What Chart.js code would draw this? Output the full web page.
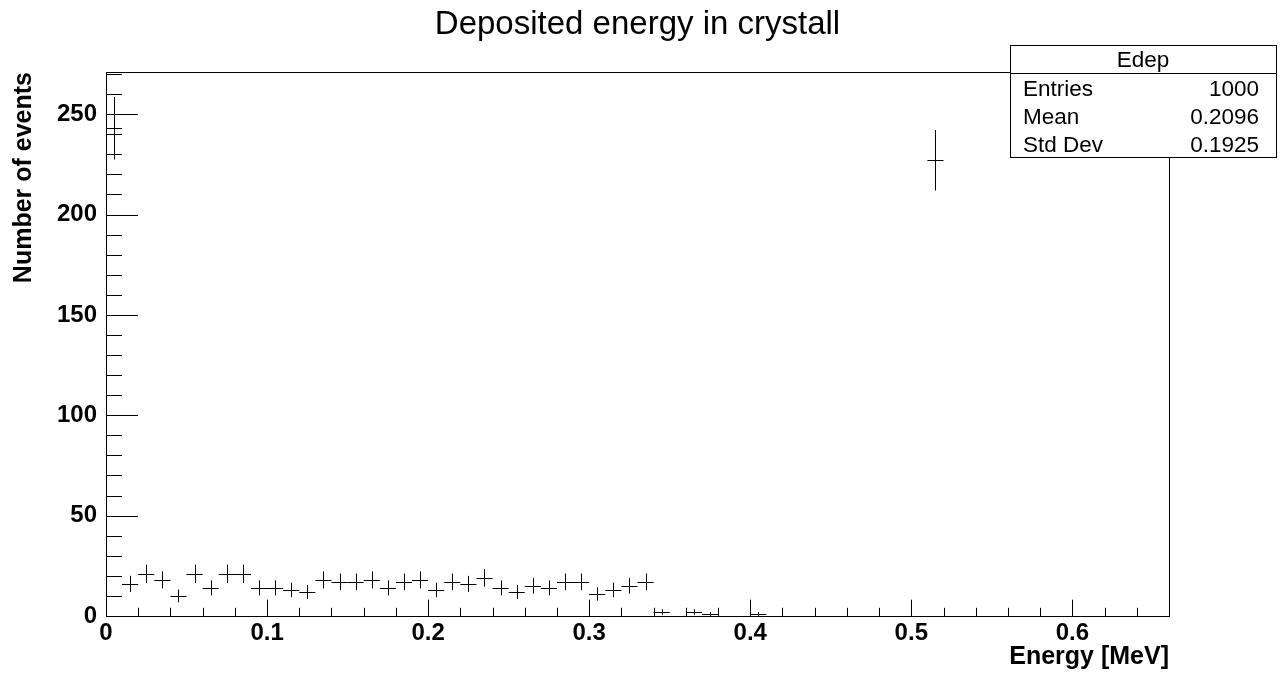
<!DOCTYPE html>
<html>
<head>
<meta charset="utf-8">
<title>Deposited energy in crystall</title>
<script src="https://cdn.jsdelivr.net/npm/chart.js@4/dist/chart.umd.min.js"></script>
<style>
  html, body { margin: 0; padding: 0; background: #fff; }
  #wrap { width: 1286px; height: 675px; position: relative; }
</style>
</head>
<body>
<div id="wrap"><canvas id="edep-chart"></canvas></div>
<script>
  // Histogram "Edep": filled bins only (bin width 0.01 MeV, range 0 - 0.66 MeV)
  var binWidth = 0.01;
  var binCenters = [
    0.005, 0.015, 0.025, 0.035, 0.045, 0.055, 0.065, 0.075, 0.085, 0.095,
    0.105, 0.115, 0.125, 0.135, 0.145, 0.155, 0.165, 0.175, 0.185, 0.195,
    0.205, 0.215, 0.225, 0.235, 0.245, 0.255, 0.265, 0.275, 0.285, 0.295,
    0.305, 0.315, 0.325, 0.335, 0.345, 0.365, 0.375, 0.405, 0.515
  ];
  var counts = [
    243, 16, 21, 18, 10, 21, 14, 21, 21, 14,
    14, 13, 12, 18, 17, 17, 18, 14, 17, 18,
    13, 17, 16, 19, 14, 12, 15, 14, 17, 17,
    11, 13, 15, 17, 2, 2, 1, 1, 227
  ];

  var xRange = [0, 0.66];
  var yRange = [0, 271];
  var xMajor = 0.1, xMinor = 0.02;
  var yMajor = 50, yMinor = 10;

  var statTitle = 'Edep';
  var statLabels = ['Entries', 'Mean', 'Std Dev'];
  var statValues = ['1000', '0.2096', '0.1925'];

  var FONT = '"Liberation Sans", Arial, Helvetica, sans-serif';

  function isMultiple(v, step) {
    var r = v / step;
    return Math.abs(r - Math.round(r)) < 1e-6;
  }

  // frame + inward ROOT style ticks
  var framePlugin = {
    id: 'rootFrame',
    beforeDatasetsDraw: function (chart) {
      var ctx = chart.ctx, a = chart.chartArea;
      var xs = chart.scales.x, ys = chart.scales.y;
      ctx.save();
      ctx.strokeStyle = '#000';
      ctx.lineWidth = 1;
      ctx.strokeRect(Math.round(a.left) + 0.5, Math.round(a.top) + 0.5,
        Math.round(a.right - a.left), Math.round(a.bottom - a.top));

      var xLen = 0.03 * (a.bottom - a.top);
      var yLen = 0.03 * (a.right - a.left);
      ctx.beginPath();
      xs.ticks.forEach(function (t) {
        var px = Math.round(xs.getPixelForValue(t.value)) + 0.5;
        var len = isMultiple(t.value, xMajor) ? xLen : xLen / 2;
        ctx.moveTo(px, a.bottom);
        ctx.lineTo(px, a.bottom - len);
      });
      ys.ticks.forEach(function (t) {
        var py = Math.round(ys.getPixelForValue(t.value)) + 0.5;
        var len = isMultiple(t.value, yMajor) ? yLen : yLen / 2;
        ctx.moveTo(a.left, py);
        ctx.lineTo(a.left + len, py);
      });
      ctx.stroke();
      ctx.restore();
    }
  };

  // histogram drawn as error crosses: bin width horizontally, sqrt(N) vertically
  var errorPlugin = {
    id: 'rootErrors',
    afterDatasetsDraw: function (chart) {
      var ctx = chart.ctx;
      var xs = chart.scales.x, ys = chart.scales.y;
      ctx.save();
      ctx.strokeStyle = '#000';
      ctx.lineWidth = 1;
      ctx.beginPath();
      chart.data.datasets[0].data.forEach(function (p) {
        var err = Math.sqrt(p.y);
        var x0 = xs.getPixelForValue(p.x - binWidth / 2);
        var x1 = xs.getPixelForValue(p.x + binWidth / 2);
        var xc = Math.round(xs.getPixelForValue(p.x)) + 0.5;
        var yc = Math.round(ys.getPixelForValue(p.y)) + 0.5;
        ctx.moveTo(x0, yc);
        ctx.lineTo(x1, yc);
        ctx.moveTo(xc, ys.getPixelForValue(p.y - err));
        ctx.lineTo(xc, ys.getPixelForValue(p.y + err));
      });
      ctx.stroke();
      ctx.restore();
    }
  };

  // statistics box in the top right corner
  var statsPlugin = {
    id: 'rootStats',
    afterDraw: function (chart) {
      var ctx = chart.ctx;
      var left = 1010, top = 45, w = 266, rowH = 28;
      var h = rowH * (statLabels.length + 1);
      ctx.save();
      ctx.fillStyle = '#fff';
      ctx.fillRect(left, top, w, h);
      ctx.strokeStyle = '#000';
      ctx.lineWidth = 1;
      ctx.strokeRect(left + 0.5, top + 0.5, w, h);
      ctx.beginPath();
      ctx.moveTo(left, top + rowH + 0.5);
      ctx.lineTo(left + w, top + rowH + 0.5);
      ctx.stroke();

      ctx.fillStyle = '#000';
      ctx.font = '22.5px ' + FONT;
      ctx.textBaseline = 'alphabetic';
      ctx.textAlign = 'center';
      ctx.fillText(statTitle, left + w / 2, top + 22);
      statLabels.forEach(function (lab, i) {
        var by = top + rowH * (i + 1) + 23;
        ctx.textAlign = 'left';
        ctx.fillText(lab, left + 13, by);
        ctx.textAlign = 'right';
        ctx.fillText(statValues[i], left + w - 17, by);
      });
      ctx.restore();
    }
  };

  var points = binCenters.map(function (c, i) { return { x: c, y: counts[i] }; });

  new Chart(document.getElementById('edep-chart'), {
    type: 'scatter',
    data: {
      datasets: [{
        label: 'Edep',
        data: points,
        pointRadius: 0,
        pointHoverRadius: 0,
        showLine: false
      }]
    },
    plugins: [framePlugin, errorPlugin, statsPlugin],
    options: {
      responsive: true,
      maintainAspectRatio: false,
      animation: false,
      layout: { padding: { left: 0, right: 117, top: 0, bottom: 0 } },
      plugins: {
        legend: { display: false },
        tooltip: { enabled: false },
        title: {
          display: true,
          fullSize: false,
          text: 'Deposited energy in crystall',
          color: '#000',
          font: { family: FONT, size: 33, weight: 'normal', lineHeight: 1 },
          padding: { top: 8, bottom: 31 }
        }
      },
      scales: {
        x: {
          type: 'linear',
          min: xRange[0],
          max: xRange[1],
          afterFit: function (s) { s.height = 59; },
          grid: { display: false, drawTicks: false },
          border: { display: false },
          ticks: {
            stepSize: xMinor,
            includeBounds: false,
            autoSkip: false,
            maxRotation: 0,
            padding: 3,
            color: '#000',
            font: { family: FONT, size: 24, weight: 'bold' },
            callback: function (v) {
              if (!isMultiple(v, xMajor)) return '';
              var r = Math.round(v * 10) / 10;
              return r === 0 ? '0' : r.toFixed(1);
            }
          },
          title: {
            display: true,
            text: 'Energy [MeV]',
            align: 'end',
            color: '#000',
            font: { family: FONT, size: 25, weight: 'bold' },
            padding: { top: 0, bottom: 3 }
          }
        },
        y: {
          type: 'linear',
          min: yRange[0],
          max: yRange[1],
          afterFit: function (s) { s.width = 106; },
          grid: { display: false, drawTicks: false },
          border: { display: false },
          ticks: {
            stepSize: yMinor,
            includeBounds: false,
            autoSkip: false,
            padding: 9,
            color: '#000',
            font: { family: FONT, size: 24, weight: 'bold' },
            callback: function (v) {
              return isMultiple(v, yMajor) ? String(Math.round(v)) : '';
            }
          },
          title: {
            display: true,
            text: 'Number of events',
            align: 'end',
            color: '#000',
            font: { family: FONT, size: 25, weight: 'bold' },
            padding: { top: 9, bottom: 0 }
          }
        }
      }
    }
  });
</script>
</body>
</html>
